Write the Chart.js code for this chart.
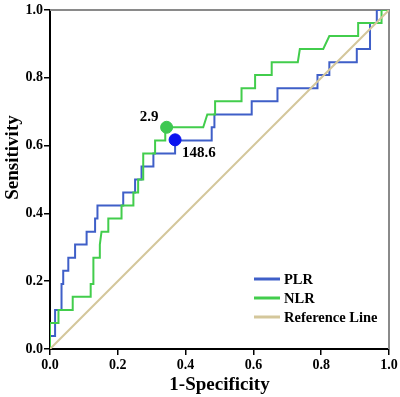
<!DOCTYPE html>
<html>
<head>
<meta charset="utf-8">
<script src="https://cdn.jsdelivr.net/npm/chart.js@4/dist/chart.umd.min.js"></script>
<style>
  body { margin: 0; background: #fff; }
  #wrap { width: 400px; height: 397px; }
</style>
</head>
<body>
<div id="wrap"><canvas id="rocChart"></canvas></div>
<script>
// ROC points (1-specificity, sensitivity)
const plrX = [0, 0, 0.015, 0.015, 0.034, 0.034, 0.039, 0.039, 0.054, 0.054, 0.074, 0.074, 0.108, 0.108,
  0.133, 0.133, 0.14, 0.14, 0.216, 0.216, 0.251, 0.251, 0.27, 0.27, 0.305, 0.305, 0.369, 0.369,
  0.477, 0.477, 0.485, 0.485, 0.595, 0.595, 0.671, 0.671, 0.789, 0.789, 0.824, 0.824,
  0.905, 0.905, 0.944, 0.944, 0.964, 0.964, 1];
const plrY = [0, 0.038, 0.038, 0.115, 0.115, 0.192, 0.192, 0.231, 0.231, 0.269, 0.269, 0.308, 0.308, 0.346,
  0.346, 0.385, 0.385, 0.423, 0.423, 0.462, 0.462, 0.5, 0.5, 0.538, 0.538, 0.577, 0.577, 0.615,
  0.615, 0.654, 0.654, 0.692, 0.692, 0.731, 0.731, 0.769, 0.769, 0.808, 0.808, 0.846,
  0.846, 0.885, 0.885, 0.962, 0.962, 1, 1];

const nlrX = [0, 0, 0.025, 0.025, 0.067, 0.067, 0.12, 0.12, 0.128, 0.128, 0.147, 0.147, 0.152, 0.172,
  0.172, 0.211, 0.211, 0.246, 0.246, 0.26, 0.26, 0.275, 0.275, 0.31, 0.31, 0.34, 0.34, 0.452,
  0.464, 0.487, 0.487, 0.565, 0.565, 0.605, 0.605, 0.654, 0.654, 0.731, 0.737, 0.806, 0.824,
  0.909, 0.909, 0.978, 0.978, 1];
const nlrY = [0, 0.077, 0.077, 0.115, 0.115, 0.154, 0.154, 0.192, 0.192, 0.269, 0.269, 0.308, 0.346, 0.346,
  0.385, 0.385, 0.423, 0.423, 0.462, 0.462, 0.5, 0.5, 0.577, 0.577, 0.615, 0.615, 0.654, 0.654,
  0.692, 0.692, 0.731, 0.731, 0.769, 0.769, 0.808, 0.808, 0.846, 0.846, 0.885, 0.885, 0.923,
  0.923, 0.962, 0.962, 1, 1];

const refX = [0, 1];
const refY = [0, 1];

// cut-off points
const plrCutX = [0.369];
const plrCutY = [0.617];
const plrCutLabel = '148.6';
const nlrCutX = [0.344];
const nlrCutY = [0.654];
const nlrCutLabel = '2.9';

const tickValues = [0, 0.2, 0.4, 0.6, 0.8, 1.0];

const serif = '"Liberation Serif", "Times New Roman", serif';
const bluLine = '#3f5fc8';
const grnLine = '#42cd4c';
const refLine = '#d4c79b';

function pts(xs, ys) {
  return xs.map((x, i) => ({ x: x, y: ys[i] }));
}

// white background + grey top/right frame
const framePlugin = {
  id: 'frame',
  beforeDraw(chart) {
    const ctx = chart.ctx;
    ctx.save();
    ctx.fillStyle = '#fff';
    ctx.fillRect(0, 0, chart.width, chart.height);
    ctx.restore();
  },
  beforeDatasetsDraw(chart) {
    const a = chart.chartArea, ctx = chart.ctx;
    ctx.save();
    ctx.strokeStyle = '#8a8a8a';
    ctx.lineWidth = 2;
    ctx.beginPath();
    ctx.moveTo(a.left, a.top);
    ctx.lineTo(a.right, a.top);
    ctx.lineTo(a.right, a.bottom);
    ctx.stroke();
    ctx.restore();
  }
};

// axis titles, cut-off labels and legend
const textPlugin = {
  id: 'texts',
  afterDraw(chart) {
    const a = chart.chartArea, ctx = chart.ctx;
    const xs = chart.scales.x, ys = chart.scales.y;
    ctx.save();
    ctx.fillStyle = '#000';
    ctx.font = 'bold 19px ' + serif;
    ctx.textAlign = 'center';
    ctx.textBaseline = 'middle';
    ctx.fillText('1-Specificity', (a.left + a.right) / 2, a.bottom + 36);
    ctx.save();
    ctx.translate(13, (a.top + a.bottom) / 2 - 22);
    ctx.rotate(-Math.PI / 2);
    ctx.fillText('Sensitivity', 0, 0);
    ctx.restore();

    ctx.font = 'bold 15px ' + serif;
    ctx.textBaseline = 'alphabetic';
    ctx.textAlign = 'right';
    ctx.fillText(nlrCutLabel, xs.getPixelForValue(nlrCutX[0]) - 8, ys.getPixelForValue(nlrCutY[0]) - 6);
    ctx.textAlign = 'left';
    ctx.fillText(plrCutLabel, xs.getPixelForValue(plrCutX[0]) + 7, ys.getPixelForValue(plrCutY[0]) + 17);

    const items = [['PLR', bluLine], ['NLR', grnLine], ['Reference Line', refLine]];
    ctx.font = 'bold 14.5px ' + serif;
    ctx.textBaseline = 'middle';
    items.forEach((it, i) => {
      const y = a.bottom - 70 + i * 19;
      ctx.strokeStyle = it[1];
      ctx.lineWidth = 3;
      ctx.beginPath();
      ctx.moveTo(a.right - 135, y);
      ctx.lineTo(a.right - 109, y);
      ctx.stroke();
      ctx.fillText(it[0], a.right - 105, y + 1);
    });
    ctx.restore();
  }
};

const axisCommon = {
  type: 'linear',
  min: 0,
  max: 1,
  afterBuildTicks: s => { s.ticks = tickValues.map(v => ({ value: v })); },
  ticks: {
    color: '#000',
    font: { family: serif, size: 14, weight: 'bold' },
    callback: v => v.toFixed(1)
  },
  grid: { display: true, drawOnChartArea: false, drawTicks: true, tickLength: 6, color: '#000', lineWidth: 1.5 },
  border: { display: true, color: '#000', width: 2 }
};

new Chart(document.getElementById('rocChart'), {
  type: 'scatter',
  data: {
    datasets: [
      { label: 'NLR cut', data: pts(nlrCutX, nlrCutY), backgroundColor: '#3ec852', borderColor: '#3ec852', pointRadius: 6, showLine: false },
      { label: 'PLR cut', data: pts(plrCutX, plrCutY), backgroundColor: '#0a14f0', borderColor: '#0a14f0', pointRadius: 6, showLine: false },
      { label: 'Reference Line', data: pts(refX, refY), borderColor: refLine, borderWidth: 2, pointRadius: 0, showLine: true },
      { label: 'NLR', data: pts(nlrX, nlrY), borderColor: grnLine, borderWidth: 2, pointRadius: 0, showLine: true },
      { label: 'PLR', data: pts(plrX, plrY), borderColor: bluLine, borderWidth: 2, pointRadius: 0, showLine: true }
    ]
  },
  options: {
    responsive: true,
    maintainAspectRatio: false,
    animation: false,
    layout: { padding: { top: 10, right: 11, left: 0, bottom: 0 } },
    plugins: { legend: { display: false }, tooltip: { enabled: false } },
    scales: {
      x: Object.assign({}, axisCommon, {
        ticks: Object.assign({}, axisCommon.ticks, { padding: 2, maxRotation: 0 }),
        afterFit: s => { s.height = 48; }
      }),
      y: Object.assign({}, axisCommon, {
        ticks: Object.assign({}, axisCommon.ticks, { padding: 1 }),
        afterFit: s => { s.width = 50; }
      })
    }
  },
  plugins: [framePlugin, textPlugin]
});
</script>
</body>
</html>
